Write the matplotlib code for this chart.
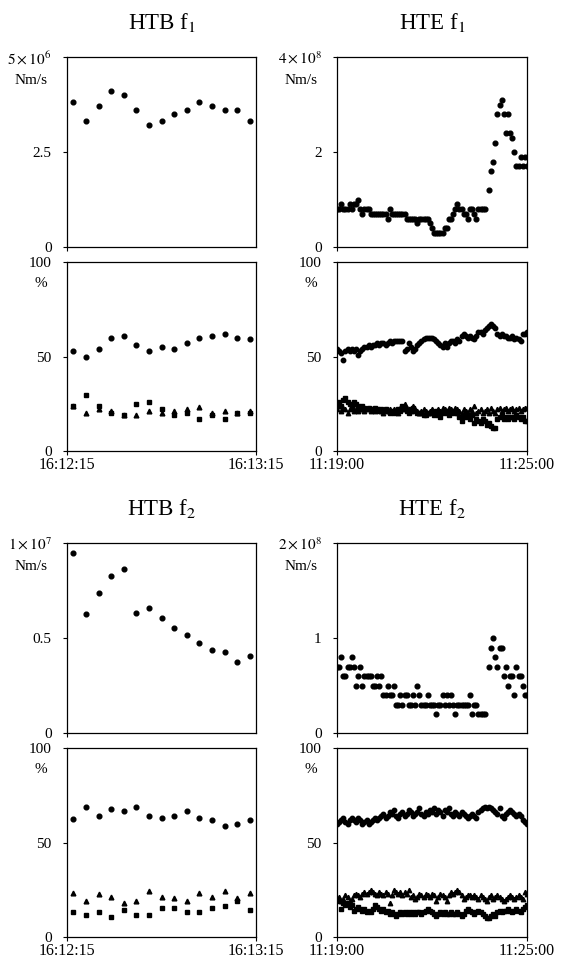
import numpy as np
import matplotlib
matplotlib.use('Agg')
import matplotlib.pyplot as plt

plt.rcParams['font.family'] = 'Liberation Serif'
plt.rcParams['mathtext.fontset'] = 'stix'

# --- HTB : 15 samples, 16:12:15 -> 16:13:15 (seconds from start)
t_htb = np.arange(2, 60, 4)
htb_f1 = [3.82, 3.31, 3.71, 4.11, 4.01, 3.61, 3.20, 3.31, 3.51, 3.61, 3.82, 3.71, 3.61, 3.61, 3.31]  # x1e6
htb_f1_circ = [53, 50, 54, 60, 61, 56, 53, 55, 54, 57, 60, 61, 62, 60, 59]
htb_f1_sq = [23.6, 29.8, 24, 20.1, 19, 25, 26.1, 22, 19.2, 20.1, 17.1, 19, 17.1, 20.1, 20.1]
htb_f1_tri = [23.6, 20.1, 22, 21, 19, 19.2, 21, 20.1, 21, 22, 23.1, 20.1, 21, 20.1, 21]

htb_f2 = [0.947, 0.626, 0.735, 0.824, 0.865, 0.634, 0.656, 0.605, 0.555, 0.515,
          0.476, 0.436, 0.425, 0.376, 0.406]  # x1e7
htb_f2_circ = [62.6, 68.8, 63.9, 67.7, 66.7, 68.8, 63.9, 62.8, 63.9, 66.7, 62.8, 61.8, 58.8, 59.8, 61.8]
htb_f2_tri = [23.3, 19.3, 22.5, 21.4, 18.2, 19.3, 24.4, 21.4, 20.4, 19.3, 23.3, 21.4, 24.4, 20.4, 23.3]
htb_f2_sq = [13.3, 11.4, 13.3, 10.4, 14.4, 11.4, 11.4, 15.4, 15.4, 13.3, 13.3, 15.4, 16.3, 19.3, 14.4]

# --- HTE : 91 samples, 11:19:00 -> 11:25:00
t_hte = np.arange(0, 361, 4)
nan = np.nan
hte_f1 = [0.8, 0.8, 0.9, 0.8, 0.8, 0.8, 0.9, 0.8, 0.9, 0.9, 1.0, 0.8, 0.7, 0.8, 0.8, 0.8,
          0.7, 0.7, 0.7, 0.7, 0.7, 0.7, 0.7, 0.7, 0.6, 0.8, 0.7, 0.7, 0.7, 0.7, 0.7, 0.7,
          0.7, 0.6, 0.6, 0.6, 0.6, 0.6, 0.5, 0.6, 0.6, 0.6, 0.6, 0.6, 0.5, 0.4, 0.3, 0.3,
          0.3, 0.3, 0.3, 0.4, 0.4, 0.6, 0.6, 0.7, 0.8, 0.9, 0.8, 0.8, 0.7, 0.7, 0.6, 0.8,
          0.8, 0.7, 0.6, 0.8, 0.8, 0.8, 0.8, nan, 1.2, 1.6, 1.8, 2.2, 2.8, 3.0, 3.1, 2.8,
          2.4, 2.8, 2.4, 2.3, 2.0, 1.7, 1.7, 1.9, 1.7, 1.9, 1.7]  # x1e8
hte_f1_circ = [54, 53, 52, 48, 53, 54, 53, 54, 53, 54, 51, 53, 54, 55, 55, 56, 55, 56, 56, 57,
               56, 57, 57, 56, 57, 58, 57, 58, 58, 58, 58, 58, 53, 54, 57, 55, 53, 54, 56, 57,
               58, 59, 60, 60, 60, 60, 59, 58, 57, 56, 55, 57, 55, 57, 58, 58, 57, 59, 58, 61,
               62, 61, 60, 61, 60, 59, 61, 63, 63, 62, 64, 65, 66, 67, 66, 65, 62, 61, 62, 61,
               61, 60, 60, 61, 59, 60, 59, 58, 62, 62, 63]
hte_f1_sq = [25, 26, 24, 27, 28, 26, 25, 24, 26, 25, 24, 23, 24, 23, 22, 23, 22, 22, 23, 22,
             21, 22, 21, 22, 21, 20, 21, 20, 21, 22, 21, 24, 22, 21, 20, 22, 23, 21, 20, 20,
             20, 19, 19, 20, 20, 20, 19, 21, 19, 18, 20, 21, 20, 19, 20, 21, 20, 20, 18, 16,
             18, 20, 18, 17, 19, 15, 17, 16, 15, 17, 16, 14, 15, 13, 12, 12, 17, 18, 19, 17,
             18, 17, 18, 18, 17, 19, 18, 17, 18, 16, 16]
hte_f1_tri = [22, 24, 21, 23, 22, 20, 22, 23, 21, 22, 21, 22, 22, 21, 22, 23, 21, 22, 21, 22,
              22, 21, 20, 22, 21, 22, 21, 22, 21, 20, 23, 22, 25, 23, 22, 21, 24, 22, 21, 20,
              21, 22, 21, 20, 21, 22, 20, 21, 22, 21, 23, 22, 21, 23, 22, 21, 23, 22, 21, 20,
              22, 21, 20, 22, 21, 24, 20, 21, 22, 20, 21, 22, 20, 23, 21, 20, 22, 23, 21, 22,
              23, 21, 22, 23, 21, 22, 23, 21, 22, 23, 23]

hte_f2 = [0.7, 0.7, 0.8, 0.6, 0.6, 0.7, 0.7, 0.8, 0.7, 0.5, 0.6, 0.7, 0.5, 0.6, 0.6, 0.6,
          0.6, 0.5, 0.5, 0.6, 0.5, 0.6, 0.4, 0.4, 0.5, 0.4, 0.4, 0.5, 0.3, 0.3, 0.4, 0.3,
          0.4, 0.4, 0.3, 0.3, 0.4, 0.3, 0.5, 0.4, 0.3, 0.3, 0.3, 0.4, 0.3, 0.3, 0.3, 0.2,
          0.3, 0.3, 0.4, 0.3, 0.4, 0.3, 0.4, 0.3, 0.2, 0.3, 0.3, 0.3, 0.3, 0.3, 0.3, 0.4,
          0.2, 0.3, 0.3, 0.2, 0.2, 0.2, 0.2, nan, 0.7, 0.9, 1.0, 0.8, 0.7, 0.9, 0.9, 0.6,
          0.7, 0.5, 0.6, 0.6, 0.4, 0.7, 0.6, 0.6, 0.5, 0.4, 0.4]  # x1e8
hte_f2_circ = [60, 61, 62, 63, 61, 60, 62, 63, 62, 61, 63, 62, 60, 61, 62, 60, 61, 62, 63, 62,
               63, 64, 65, 63, 64, 66, 65, 67, 64, 63, 65, 66, 64, 65, 67, 66, 64, 65, 66, 68,
               65, 64, 66, 65, 67, 66, 68, 65, 67, 66, 64, 67, 66, 68, 65, 64, 66, 65, 64, 66,
               65, 64, 63, 64, 65, 64, 63, 66, 67, 68, 69, 68, 69, 68, 67, 66, 65, 68, 64, 63,
               65, 66, 67, 66, 65, 64, 65, 64, 62, 61, 60]
hte_f2_tri = [20, 21, 19, 20, 22, 21, 19, 20, 22, 23, 22, 21, 23, 24, 23, 24, 25, 24, 23, 22,
              24, 23, 22, 24, 23, 18, 22, 25, 24, 23, 24, 22, 24, 23, 25, 21, 22, 20, 21, 23,
              22, 21, 23, 22, 21, 23, 22, 19, 21, 23, 22, 21, 19, 22, 24, 23, 24, 25, 24, 22,
              20, 21, 22, 22, 21, 22, 21, 20, 22, 21, 20, 19, 21, 22, 20, 21, 22, 21, 20, 19,
              20, 21, 22, 21, 20, 21, 22, 21, 20, 24, 23]
hte_f2_sq = [20, 19, 15, 18, 17, 18, 16, 17, 14, 15, 16, 15, 14, 15, 13, 14, 13, 15, 17, 16,
             15, 14, 15, 13, 14, 12, 13, 12, 11, 12, 13, 12, 13, 12, 13, 12, 13, 12, 13, 13,
             12, 13, 14, 15, 14, 13, 12, 11, 12, 13, 12, 13, 12, 12, 13, 12, 12, 13, 12, 11,
             12, 14, 15, 14, 13, 12, 13, 14, 13, 12, 11, 10, 10, 11, 12, 11, 13, 14, 13, 14,
             14, 15, 14, 13, 14, 15, 14, 13, 15, 16, 17]

titles = [r'HTB f$_1$', r'HTE f$_1$', r'HTB f$_2$', r'HTE f$_2$']
xlabels_htb = ['16:12:15', '16:13:15']
xlabels_hte = ['11:19:00', '11:25:00']

W, H = 565, 959
fig = plt.figure(figsize=(W / 100, H / 100), dpi=100)

cols = [(67, 256), (337, 527)]
rows = [(57, 247), (262, 451), (543, 733), (748, 937)]


def make_ax(col, row):
    x0, x1 = cols[col]
    y0, y1 = rows[row]
    ax = fig.add_axes([x0 / W, 1 - y1 / H, (x1 - x0) / W, (y1 - y0) / H])
    for s in ax.spines.values():
        s.set_linewidth(0.9)
    ax.tick_params(axis='y', direction='out', length=3, width=0.8, pad=8, labelsize=11)
    ax.tick_params(axis='x', direction='out', length=3, width=0.8, pad=1.5, labelsize=11.5)
    return ax


def value_panel(ax, t, vals, xlim, ymax, mid, top_lab, title):
    ax.plot(t, vals, 'o', ms=3.4, color='k', mec='k')
    ax.set_xlim(*xlim)
    ax.set_ylim(0, ymax)
    ax.set_yticks([0, ymax / 2, ymax])
    ax.set_yticklabels(['0', mid, top_lab])
    ax.set_xticks([xlim[0]])
    ax.set_xticklabels([''])
    ax.text(-0.105, 0.875, 'Nm/s', transform=ax.transAxes, ha='right', va='center', fontsize=11)
    ax.set_title(title, fontsize=16.5, pad=20)


def pct_panel(ax, t, circ, tri, sq, xlim, xlabs, ms=3.4):
    ax.plot(t, circ, 'o', ms=ms, color='k', mec='k')
    ax.plot(t, sq, 's', ms=ms * 0.85, color='k', mec='k')
    ax.plot(t, tri, '^', ms=ms, color='k', mec='k')
    ax.set_xlim(*xlim)
    ax.set_ylim(0, 100)
    ax.set_yticks([0, 50, 100])
    ax.set_yticklabels(['0', '50', '100'])
    ax.set_xticks(list(xlim))
    ax.set_xticklabels(xlabs)
    ax.text(-0.14, 0.885, '%', transform=ax.transAxes, ha='center', va='center', fontsize=11)


# HTB f1
ax = make_ax(0, 0)
value_panel(ax, t_htb, htb_f1, (0, 60), 5, '2.5', r'$5\times10^{6}$', titles[0])
ax = make_ax(0, 1)
pct_panel(ax, t_htb, htb_f1_circ, htb_f1_tri, htb_f1_sq, (0, 60), xlabels_htb)

# HTE f1
ax = make_ax(1, 0)
value_panel(ax, t_hte, hte_f1, (0, 360), 4, '2', r'$4\times10^{8}$', titles[1])
ax = make_ax(1, 1)
pct_panel(ax, t_hte, hte_f1_circ, hte_f1_tri, hte_f1_sq, (0, 360), xlabels_hte, ms=3.2)

# HTB f2
ax = make_ax(0, 2)
value_panel(ax, t_htb, htb_f2, (0, 60), 1, '0.5', r'$1\times10^{7}$', titles[2])
ax = make_ax(0, 3)
pct_panel(ax, t_htb, htb_f2_circ, htb_f2_tri, htb_f2_sq, (0, 60), xlabels_htb)

# HTE f2
ax = make_ax(1, 2)
value_panel(ax, t_hte, hte_f2, (0, 360), 2, '1', r'$2\times10^{8}$', titles[3])
ax = make_ax(1, 3)
pct_panel(ax, t_hte, hte_f2_circ, hte_f2_tri, hte_f2_sq, (0, 360), xlabels_hte, ms=3.2)

fig.savefig('out.png', dpi=100)
